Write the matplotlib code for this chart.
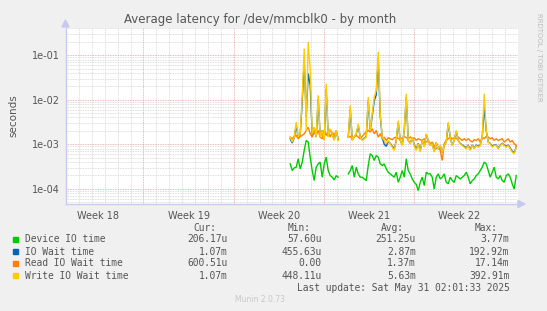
import numpy as np
import matplotlib
matplotlib.use("Agg")
import matplotlib.pyplot as plt
from matplotlib.ticker import FixedLocator, NullFormatter

# ---------------- data (values in milliseconds) ----------------
# time axis: days since start of week 18; samples every ~3.7 h
seg1_start = 18.38
seg2_start = 22.88
step = 0.155

device_seg1 = [0.363, 0.257, 0.295, 0.305, 0.471, 0.280, 0.396, 0.725, 1.22, 1.12,
               0.513, 0.257, 0.153, 0.305, 0.363, 0.396, 0.182, 0.363, 0.513, 0.257,
               0.198, 0.182, 0.158, 0.198, 0.182]
device_seg2 = [0.216, 0.257, 0.333, 0.182, 0.305, 0.216, 0.182, 0.182, 0.167, 0.153,
               0.333, 0.610, 0.559, 0.432, 0.559, 0.513, 0.363, 0.333, 0.363, 0.280,
               0.236, 0.216, 0.198, 0.182, 0.236, 0.140, 0.182, 0.257, 0.182, 0.471,
               0.257, 0.216, 0.167, 0.140, 0.125, 0.091, 0.140, 0.182, 0.118, 0.236,
               0.216, 0.216, 0.182, 0.099, 0.182, 0.216, 0.167, 0.182, 0.216, 0.140,
               0.129, 0.182, 0.153, 0.140, 0.198, 0.182, 0.167, 0.182, 0.198, 0.236,
               0.182, 0.129, 0.153, 0.167, 0.198, 0.216, 0.257, 0.305, 0.396, 0.363,
               0.257, 0.182, 0.236, 0.305, 0.182, 0.167, 0.198, 0.153, 0.140, 0.198,
               0.216, 0.182, 0.129, 0.099, 0.198]

iowait_seg1 = [1.33, 1.07, 1.40, 2.65, 1.40, 1.66, 9.0, 76.0, 4.1, 39.0,
               21.0, 1.66, 2.35, 1.45, 10.5, 1.45, 2.05, 1.27, 17.5, 1.50,
               2.15, 1.72, 1.27, 2.0, 1.27]
iowait_seg2 = [1.45, 6.0, 1.25, 1.45, 1.70, 2.6, 1.45, 1.25, 1.35, 1.50,
               9.5, 2.05, 4.3, 9.5, 13.0, 85.0, 4.3, 1.40, 1.00, 0.90,
               1.15, 1.05, 0.90, 0.78, 1.22, 3.1, 1.22, 0.98, 2.0, 11.5,
               1.22, 1.05, 1.42, 0.98, 0.78, 1.05, 0.72, 1.22, 0.90, 1.65,
               1.22, 0.95, 1.03, 0.70, 1.10, 0.80, 0.92, 0.66, 0.95, 1.12,
               2.9, 1.45, 0.96, 1.22, 1.95, 1.22, 1.05, 0.96, 0.90, 0.82,
               0.96, 0.76, 0.96, 0.82, 0.96, 0.90, 0.96, 1.42, 7.0, 2.0,
               1.12, 1.05, 0.90, 0.96, 0.96, 0.82, 0.96, 1.05, 0.96, 0.90,
               0.96, 0.82, 0.70, 0.64, 0.88]

read_seg1 = [1.45, 1.33, 1.50, 1.58, 1.33, 1.50, 1.58, 1.72, 2.05, 2.4,
             1.72, 1.45, 1.88, 1.58, 2.05, 1.45, 1.33, 2.05, 1.58, 2.05,
             1.45, 1.88, 1.58, 2.05, 1.33]
read_seg2 = [1.45, 1.50, 1.33, 1.45, 1.58, 1.45, 1.33, 1.50, 1.72, 1.88,
             2.05, 1.88, 2.23, 1.72, 2.05, 1.45, 1.72, 1.33, 1.45, 1.22,
             1.40, 1.33, 1.27, 1.40, 1.45, 1.33, 1.40, 1.33, 1.50, 1.40,
             1.33, 1.45, 1.33, 1.40, 1.22, 1.33, 1.27, 1.22, 1.33, 1.12,
             1.22, 1.03, 1.12, 0.94, 0.79, 0.86, 0.725, 0.432, 1.03, 1.22,
             1.33, 1.45, 1.33, 1.40, 1.33, 1.45, 1.33, 1.22, 1.33, 1.22,
             1.33, 1.22, 1.12, 1.27, 1.22, 1.33, 1.12, 1.45, 1.33, 1.50,
             1.45, 1.33, 1.40, 1.22, 1.33, 1.22, 1.27, 1.33, 1.12, 1.22,
             1.33, 1.12, 1.22, 1.03, 0.94]

write_seg1 = [1.45, 1.12, 1.45, 3.15, 1.45, 1.72, 11.5, 141.0, 2.05, 200.0,
              46.0, 1.72, 2.4, 1.45, 12.6, 1.45, 2.05, 1.22, 23.0, 1.45,
              2.23, 1.72, 1.22, 2.05, 1.22]
write_seg2 = [1.45, 7.5, 1.22, 1.45, 1.72, 2.9, 1.45, 1.22, 1.33, 1.45,
              11.5, 2.05, 4.9, 11.5, 16.3, 119.0, 4.9, 1.45, 1.22, 1.03,
              1.22, 1.03, 0.86, 0.725, 1.22, 3.4, 1.22, 0.94, 2.05, 13.7,
              1.22, 1.03, 1.45, 0.94, 0.725, 1.03, 0.665, 1.22, 0.86, 1.72,
              1.22, 0.94, 1.03, 0.665, 1.12, 0.79, 0.94, 0.665, 0.94, 1.12,
              3.15, 1.45, 0.94, 1.22, 2.05, 1.22, 1.03, 0.94, 0.86, 0.79,
              0.94, 0.725, 0.94, 0.79, 0.94, 0.86, 0.94, 1.45, 13.7, 2.05,
              1.12, 1.03, 0.86, 0.94, 0.94, 0.79, 0.94, 1.03, 0.94, 0.86,
              0.94, 0.79, 0.665, 0.61, 0.86]

series_names = ["Device IO time", "IO Wait time", "Read IO Wait time", "Write IO Wait time"]
series_colors = ["#00CC00", "#0066B3", "#FF8000", "#FFCC00"]
cur_vals = ["206.17u", "1.07m", "600.51u", "1.07m"]
min_vals = ["57.60u", "455.63u", "0.00", "448.11u"]
avg_vals = ["251.25u", "2.87m", "1.37m", "5.63m"]
max_vals = ["3.77m", "192.92m", "17.14m", "392.91m"]
week_labels = ["Week 18", "Week 19", "Week 20", "Week 21", "Week 22"]
week_starts = [7, 14, 21, 28]

title = "Average latency for /dev/mmcblk0 - by month"
last_update = "Last update: Sat May 31 02:01:33 2025"

# ---------------- figure ----------------
W, H = 547, 311
fig = plt.figure(figsize=(W / 100, H / 100), dpi=100, facecolor="#F0F0F0")
ax = fig.add_axes([65.5 / W, 1 - 204 / H, (517.5 - 65.5) / W, (204 - 27.5) / H])
ax.set_facecolor("white")

def seg(start, vals):
    t = start + step * np.arange(len(vals))
    return t, np.array(vals) / 1000.0

def draw(s1, s2, color):
    t1, v1 = seg(seg1_start, s1)
    t2, v2 = seg(seg2_start, s2)
    t = np.concatenate([t1, [np.nan], t2])
    v = np.concatenate([v1, [np.nan], v2])
    ax.plot(t, v, color=color, lw=1.0, zorder=5, solid_joinstyle="miter")

draw(device_seg1, device_seg2, series_colors[0])
draw(iowait_seg1, iowait_seg2, series_colors[1])
draw(read_seg1, read_seg2, series_colors[2])
draw(write_seg1, write_seg2, series_colors[3])

ax.set_yscale("log")
ax.set_xlim(0.96, 36.0)
ax.set_ylim(4.55e-5, 0.42)

# grid
minor_y = [m * 10.0 ** e for e in range(-5, 0) for m in range(2, 10)]
for yv in minor_y:
    ax.axhline(yv, color="#d4d4d4", lw=0.6, ls=(0, (1, 1)), zorder=1)
for e in range(-5, 1):
    ax.axhline(10.0 ** e, color="#e6a0a0", lw=0.6, ls=(0, (1, 1)), zorder=2)
for d in range(1, 36):
    if d in week_starts:
        ax.axvline(d, color="#e6a0a0", lw=0.6, ls=(0, (1, 1)), zorder=2)
    else:
        ax.axvline(d, color="#d4d4d4", lw=0.6, ls=(0, (1, 1)), zorder=1)

ax.yaxis.set_major_locator(FixedLocator([1e-4, 1e-3, 1e-2, 1e-1]))
ax.yaxis.set_minor_locator(FixedLocator(minor_y))
ax.yaxis.set_minor_formatter(NullFormatter())
ax.set_yticklabels(["1e-04", "1e-03", "1e-02", "1e-01"])
ax.set_xticks([w + 3.5 for w in [0, 7, 14, 21, 28]])
ax.set_xticklabels(week_labels)
ax.tick_params(axis="both", which="both", length=0, labelsize=7, labelcolor="#555555")
ax.tick_params(axis="x", pad=5)
ax.tick_params(axis="y", pad=4)

for s in ["top", "right"]:
    ax.spines[s].set_visible(False)
for s in ["left", "bottom"]:
    ax.spines[s].set_color("#c8c8f0")
    ax.spines[s].set_linewidth(1.0)

ax.set_ylabel("seconds", fontsize=7.5, color="#555555", labelpad=10)

# axis arrows
fig.patches.append(plt.Polygon([[62 / W, 1 - 27 / H], [69 / W, 1 - 27 / H], [65.5 / W, 1 - 20 / H]],
                               closed=True, transform=fig.transFigure, color="#c8c8f0"))
fig.patches.append(plt.Polygon([[518 / W, 1 - 200.5 / H], [518 / W, 1 - 207.5 / H], [525 / W, 1 - 204 / H]],
                               closed=True, transform=fig.transFigure, color="#c8c8f0"))

# title and side text
fig.text(260 / W, 1 - 19 / H, title, ha="center", va="center", fontsize=8.5, color="#555555")
fig.text(539 / W, 1 - 57 / H, "RRDTOOL / TOBI OETIKER", rotation=270, ha="center", va="center",
         fontsize=5.0, color="#bbbbbb")

# legend
mono = "DejaVu Sans Mono"
fs = 6.9
row_y = [239.5, 251.7, 263.5, 275.7]
head_y = 227.7
cols_right = [227.7, 321.7, 415.7, 509.3]
heads = ["Cur:", "Min:", "Avg:", "Max:"]
for x, hname in zip(cols_right, heads):
    fig.text((x - 11.5) / W, 1 - head_y / H, hname, ha="right", va="center", family=mono,
             fontsize=fs, color="#555555")
for i, name in enumerate(series_names):
    yy = 1 - row_y[i] / H
    fig.patches.append(plt.Rectangle((13.3 / W, yy - 2.6 / H), 5 / W, 5 / H, transform=fig.transFigure,
                                     color=series_colors[i]))
    fig.text(25 / W, yy, name, ha="left", va="center", family=mono, fontsize=fs, color="#555555")
    for x, vals in zip(cols_right, [cur_vals, min_vals, avg_vals, max_vals]):
        fig.text(x / W, yy, vals[i], ha="right", va="center", family=mono, fontsize=fs, color="#555555")
fig.text(509.3 / W, 1 - 288 / H, last_update, ha="right", va="center", family=mono, fontsize=fs,
         color="#555555")
fig.text(260 / W, 1 - 300 / H, "Munin 2.0.73", ha="center", va="center", fontsize=5.5, color="#c8c8c8")

fig.savefig("out.png", dpi=100, facecolor=fig.get_facecolor())
